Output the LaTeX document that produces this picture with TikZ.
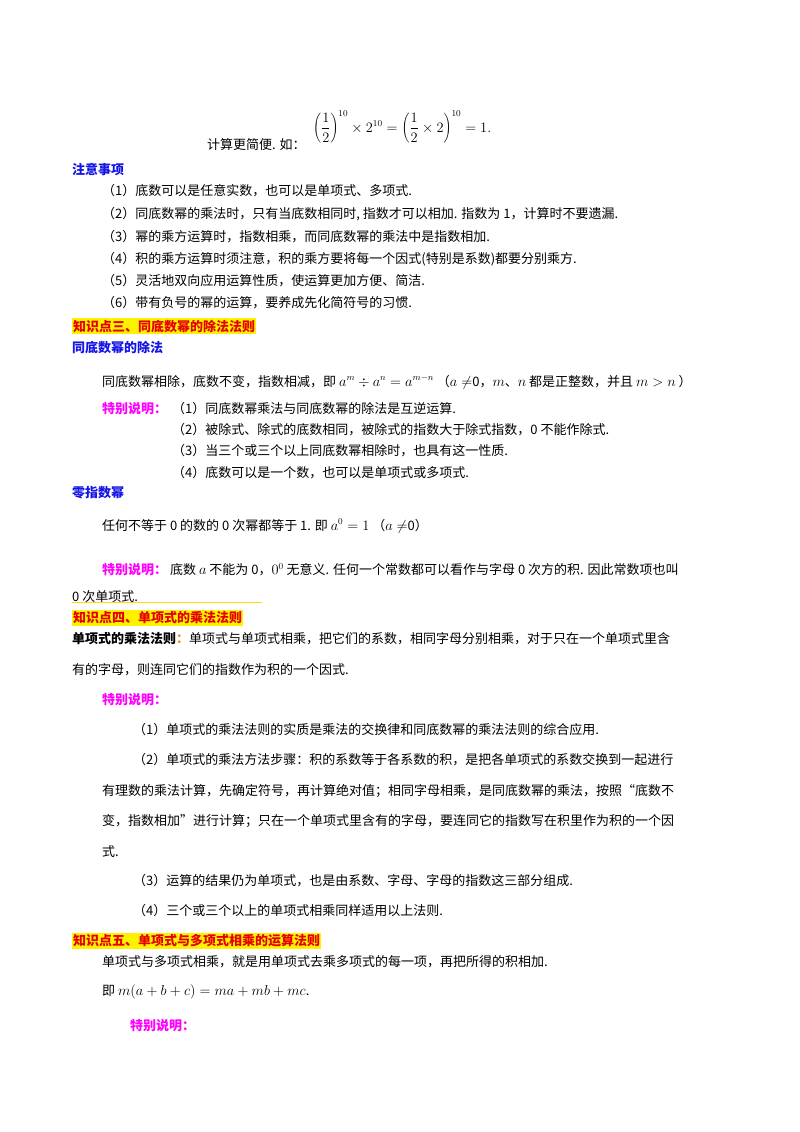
\documentclass[tikz,border=0pt]{standalone}
\usepackage{fontspec}
\setmainfont{Noto Sans CJK SC}
\DeclareMathSizes{13}{13.5}{9.5}{7}
\definecolor{hdblue}{RGB}{20,20,230}
\definecolor{mag}{RGB}{255,0,255}
\definecolor{hdred}{RGB}{230,0,0}
\begin{document}
\begin{tikzpicture}[x=1pt,y=-1pt,
  txt/.style={anchor=west,inner sep=0pt,font=\fontsize{13}{15}\selectfont},
  blue/.style={txt,text=hdblue,font=\fontsize{13}{15}\selectfont\bfseries},
  sp/.style={txt,text=mag,font=\fontsize{13}{15}\selectfont\bfseries},
  hd/.style={txt,text=hdred,fill=yellow,inner xsep=1pt,inner ysep=2pt,font=\fontsize{13}{15}\selectfont\bfseries}]
\useasboundingbox (0,0) rectangle (800,1132);
\node[txt] (f0) at (207,145) {计算更简便. 如：};
\node[txt] (f1) at (313,127) {$\displaystyle\left(\frac{1}{2}\right)^{10}\times 2^{10}=\left(\frac{1}{2}\times 2\right)^{10}=1.$};
\node[blue] (h1) at (72,169) {注意事项};
\node[txt] (a1) at (102,191) {（1）底数可以是任意实数，也可以是单项式、多项式.};
\node[txt] (a2) at (102,214) {（2）同底数幂的乘法时，只有当底数相同时, 指数才可以相加. 指数为 1，计算时不要遗漏.};
\node[txt] (a3) at (102,237) {（3）幂的乘方运算时，指数相乘，而同底数幂的乘法中是指数相加.};
\node[txt] (a4) at (102,259) {（4）积的乘方运算时须注意，积的乘方要将每一个因式(特别是系数)都要分别乘方.};
\node[txt] (a5) at (102,281) {（5）灵活地双向应用运算性质，使运算更加方便、简洁.};
\node[txt] (a6) at (102,303) {（6）带有负号的幂的运算，要养成先化简符号的习惯.};
\node[hd] (k3) at (72,326) {知识点三、同底数幂的除法法则};
\node[blue] (h2) at (72,347) {同底数幂的除法};
\node[txt] (b0) at (102,382) {同底数幂相除，底数不变，指数相减，即 $a^m\div a^n=a^{m-n}$ （$a\neq$0，$m$、$n$ 都是正整数，并且 $m>n$ ）};
\node[sp] (s1) at (102,409) {特别说明：};
\node[txt] (b1) at (172,409) {（1）同底数幂乘法与同底数幂的除法是互逆运算.};
\node[txt] (b2) at (172,430) {（2）被除式、除式的底数相同，被除式的指数大于除式指数，0 不能作除式.};
\node[txt] (b3) at (172,451) {（3）当三个或三个以上同底数幂相除时，也具有这一性质.};
\node[txt] (b4) at (172,473) {（4）底数可以是一个数，也可以是单项式或多项式.};
\node[blue] (h3) at (72,493) {零指数幂};
\node[txt] (c1) at (102,526) {任何不等于 0 的数的 0 次幂都等于 1. 即 $a^0=1$ （$a\neq$0）};
\node[sp] (s2) at (102,570) {特别说明：};
\node[txt] (c2) at (170,570) {底数 $a$ 不能为 0，$0^0$ 无意义. 任何一个常数都可以看作与字母 0 次方的积. 因此常数项也叫};
\node[txt] (c3) at (72,597) {0 次单项式.};
\coordinate (u1) at (72,602);
\coordinate (u2) at (262,602);
\draw[yellow!80!orange,line width=0.6pt] (u1) -- (u2);
\node[hd] (k4) at (72,618) {知识点四、单项式的乘法法则};
\node[txt] (d0) at (72,639) {\textbf{单项式的乘法法则}\textcolor{orange}{\textbf{：}}单项式与单项式相乘，把它们的系数，相同字母分别相乘，对于只在一个单项式里含};
\node[txt] (d1) at (72,670) {有的字母，则连同它们的指数作为积的一个因式.};
\node[sp] (s3) at (102,700) {特别说明：};
\node[txt] (d2) at (133,730) {（1）单项式的乘法法则的实质是乘法的交换律和同底数幂的乘法法则的综合应用.};
\node[txt] (d3) at (133,760) {（2）单项式的乘法方法步骤：积的系数等于各系数的积，是把各单项式的系数交换到一起进行};
\node[txt] (d4) at (102,791) {有理数的乘法计算，先确定符号，再计算绝对值；相同字母相乘，是同底数幂的乘法，按照“底数不};
\node[txt] (d5) at (102,821) {变，指数相加”进行计算；只在一个单项式里含有的字母，要连同它的指数写在积里作为积的一个因};
\node[txt] (d6) at (102,852) {式.};
\node[txt] (d7) at (133,881) {（3）运算的结果仍为单项式，也是由系数、字母、字母的指数这三部分组成.};
\node[txt] (d8) at (133,911) {（4）三个或三个以上的单项式相乘同样适用以上法则.};
\node[hd] (k5) at (72,941) {知识点五、单项式与多项式相乘的运算法则};
\node[txt] (e1) at (102,962) {单项式与多项式相乘，就是用单项式去乘多项式的每一项，再把所得的积相加.};
\node[txt] (e2) at (102,992) {即 $m(a+b+c)=ma+mb+mc$.};
\node[sp] (s4) at (130,1026) {特别说明：};
\end{tikzpicture}
\end{document}
